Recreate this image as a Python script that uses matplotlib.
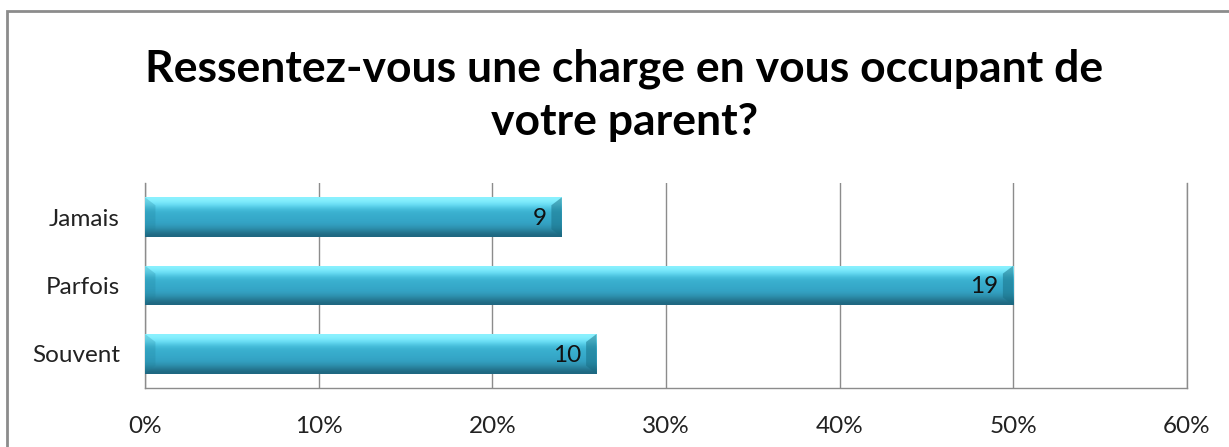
import matplotlib.pyplot as plt
import matplotlib.patches as patches
import numpy as np

# data
categories = ['Souvent', 'Parfois', 'Jamais']
counts = [10, 19, 9]
percents = [26, 50, 24]
xticks = [0, 10, 20, 30, 40, 50, 60]
title = 'Ressentez-vous une charge en vous occupant de\nvotre parent?'

plt.rcParams['font.family'] = ['Lato', 'DejaVu Sans']

fig = plt.figure(figsize=(12.29, 4.47), dpi=100)
ax = fig.add_axes([0.118, 0.132, 0.8478, 0.4586])

# outer chart border (only top and left visible)
fig.patches.append(patches.Rectangle((7 / 1229, -0.1), 1.2, 1 - 11 / 447 + 0.1,
                                     transform=fig.transFigure, fill=False,
                                     edgecolor='#8c8c8c', linewidth=2))

ypos = np.arange(len(categories))
bars = ax.barh(ypos, percents, height=0.58, color='#3aaecc', zorder=3)

# vertical gradient for the glossy look (top row first)
grad = np.array([[0.55, 0.95, 1.0], [0.42, 0.88, 0.97], [0.25, 0.72, 0.84],
                 [0.22, 0.68, 0.80], [0.21, 0.66, 0.79], [0.20, 0.63, 0.76],
                 [0.17, 0.54, 0.65], [0.12, 0.40, 0.50]])
img = grad[:, None, :]
for b in bars:
    x0, y0 = b.get_x(), b.get_y()
    w, h = b.get_width(), b.get_height()
    im = ax.imshow(img, extent=(x0, x0 + w, y0, y0 + h), aspect='auto',
                   interpolation='bicubic', zorder=4)
    im.set_clip_path(b)
    # left bevel and dark right end
    ax.add_patch(patches.Polygon([(x0, y0), (x0 + 0.6, y0 + h * 0.2),
                                  (x0 + 0.6, y0 + h * 0.8), (x0, y0 + h)],
                                 closed=True, color='#1f7f99', alpha=0.25,
                                 zorder=5, linewidth=0))
    ax.add_patch(patches.Polygon([(x0 + w, y0), (x0 + w - 0.6, y0 + h * 0.2),
                                  (x0 + w - 0.6, y0 + h * 0.8), (x0 + w, y0 + h)],
                                 closed=True, color='#176d83', alpha=0.5,
                                 zorder=5, linewidth=0))

for y, p, c in zip(ypos, percents, counts):
    ax.text(p - 0.85, y - 0.02, str(c), ha='right', va='center', fontsize=17.5,
            color='#111111', zorder=6)

ax.set_xlim(0, 60)
ax.set_ylim(-0.5, 2.5)
ax.set_xticks(xticks)
ax.set_xticklabels([f'{t}%' for t in xticks], fontsize=17.5, color='#222222')
ax.set_yticks(ypos)
ax.set_yticklabels(categories, fontsize=17.5, color='#222222')
ax.tick_params(axis='x', length=0, pad=20)
ax.tick_params(axis='y', length=0, pad=18)
ax.grid(axis='x', color='#8c8c8c', linewidth=1, zorder=0)
ax.set_axisbelow(True)
ax.spines['top'].set_visible(False)
for s in ['left', 'bottom', 'right']:
    ax.spines[s].set_color('#8c8c8c')
    ax.spines[s].set_linewidth(1)

fig.text(0.508, 0.787, title, ha='center', va='center', fontsize=32,
         fontweight='bold', color='black', linespacing=1.4)

fig.savefig('out.png', dpi=100)
